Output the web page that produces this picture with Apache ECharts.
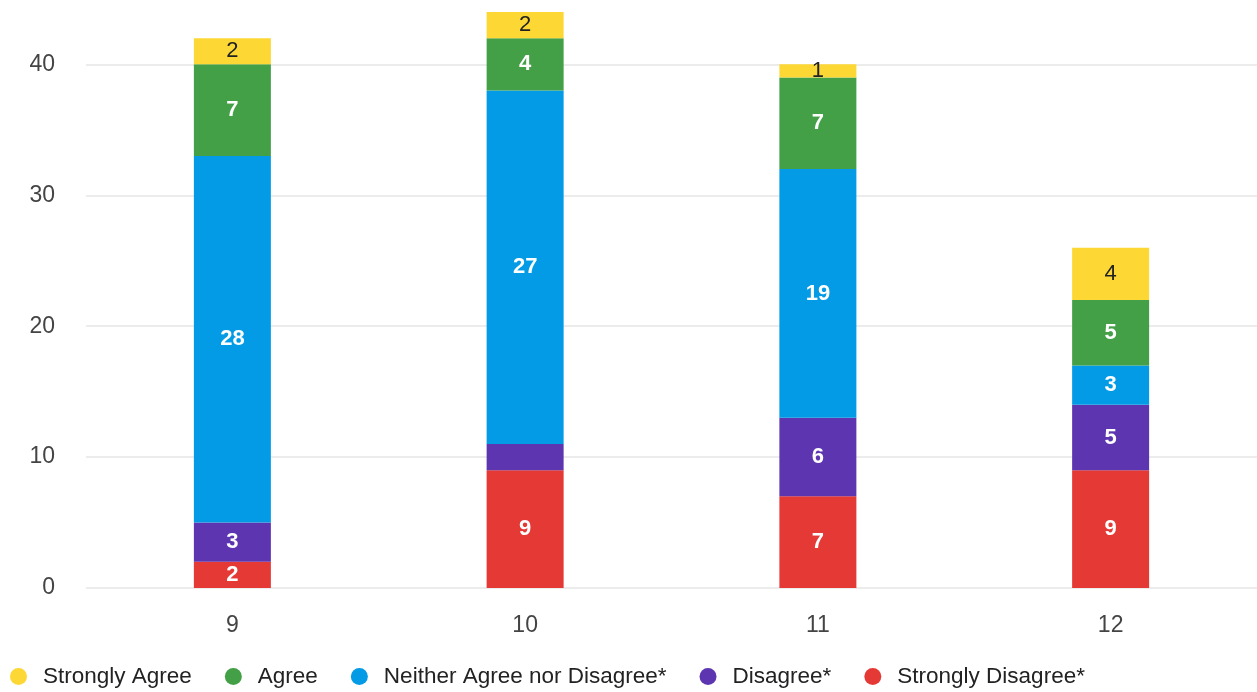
<!DOCTYPE html>
<html>
<head>
<meta charset="utf-8">
<script src="https://cdn.jsdelivr.net/npm/echarts@6/dist/echarts.min.js"></script>
<style>
  html, body { margin: 0; padding: 0; background: #fff; }
  #chart { width: 1257px; height: 692px; }
</style>
</head>
<body>
<div id="chart"></div>
<script>
const categories = ['9', '10', '11', '12']
const stronglyDisagree = [2, 9, 7, 9]
const disagree = [3, 2, 6, 5]
const neither = [28, 27, 19, 3]
const agree = [7, 4, 7, 5]
const stronglyAgree = [2, 2, 1, 4]
const yTicks = [0, 10, 20, 30, 40]

// 从下往上堆叠
const seriesDefs = [
  { name: 'Strongly Disagree*', data: stronglyDisagree, color: '#e53935', text: '#fff' },
  { name: 'Disagree*', data: disagree, color: '#5e35b1', text: '#fff', hide: [1] },
  { name: 'Neither Agree nor Disagree*', data: neither, color: '#039be5', text: '#fff' },
  { name: 'Agree', data: agree, color: '#43a047', text: '#fff' },
  { name: 'Strongly Agree', data: stronglyAgree, color: '#fdd835', text: '#222' },
]

const chart = echarts.init(document.getElementById('chart'))
chart.setOption({
  animation: false,
  textStyle: { fontFamily: 'Arial, "Liberation Sans", sans-serif' },
  grid: { left: 86, width: 1176, top: 12, bottom: 104, containLabel: false },
  legend: {
    left: 5,
    bottom: -1,
    icon: 'circle',
    itemWidth: 17,
    itemHeight: 17,
    itemGap: 33,
    textStyle: { fontSize: 22.5, color: '#222', padding: [0, 0, 0, 11] },
    data: ['Strongly Agree', 'Agree', 'Neither Agree nor Disagree*', 'Disagree*', 'Strongly Disagree*'],
  },
  xAxis: {
    type: 'category',
    data: categories,
    axisLine: { show: false },
    axisTick: { show: false },
    axisLabel: { fontSize: 23, color: '#444', margin: 26 },
  },
  yAxis: {
    type: 'value',
    min: 0,
    max: 44,
    interval: 10,
    axisLabel: {
      fontSize: 23,
      color: '#444',
      margin: 31,
      showMaxLabel: false,
      formatter: (v) => (yTicks.includes(v) ? String(v) : ''),
    },
    splitLine: {
      lineStyle: {
        color: ['#e6e6e6', '#e6e6e6', '#e6e6e6', '#e6e6e6', '#e6e6e6', 'rgba(0,0,0,0)'],
        width: 1.5,
      },
    },
  },
  series: seriesDefs.map((s) => ({
    name: s.name,
    type: 'bar',
    stack: 'total',
    barWidth: 77,
    itemStyle: { color: s.color },
    label: {
      show: true,
      position: 'inside',
      color: s.text,
      fontSize: 22,
      fontWeight: s.text === '#fff' ? 'bold' : 'normal',
    },
    data: s.data.map((v, i) =>
      s.hide && s.hide.includes(i) ? { value: v, label: { show: false } } : v
    ),
  })),
})
</script>
</body>
</html>
